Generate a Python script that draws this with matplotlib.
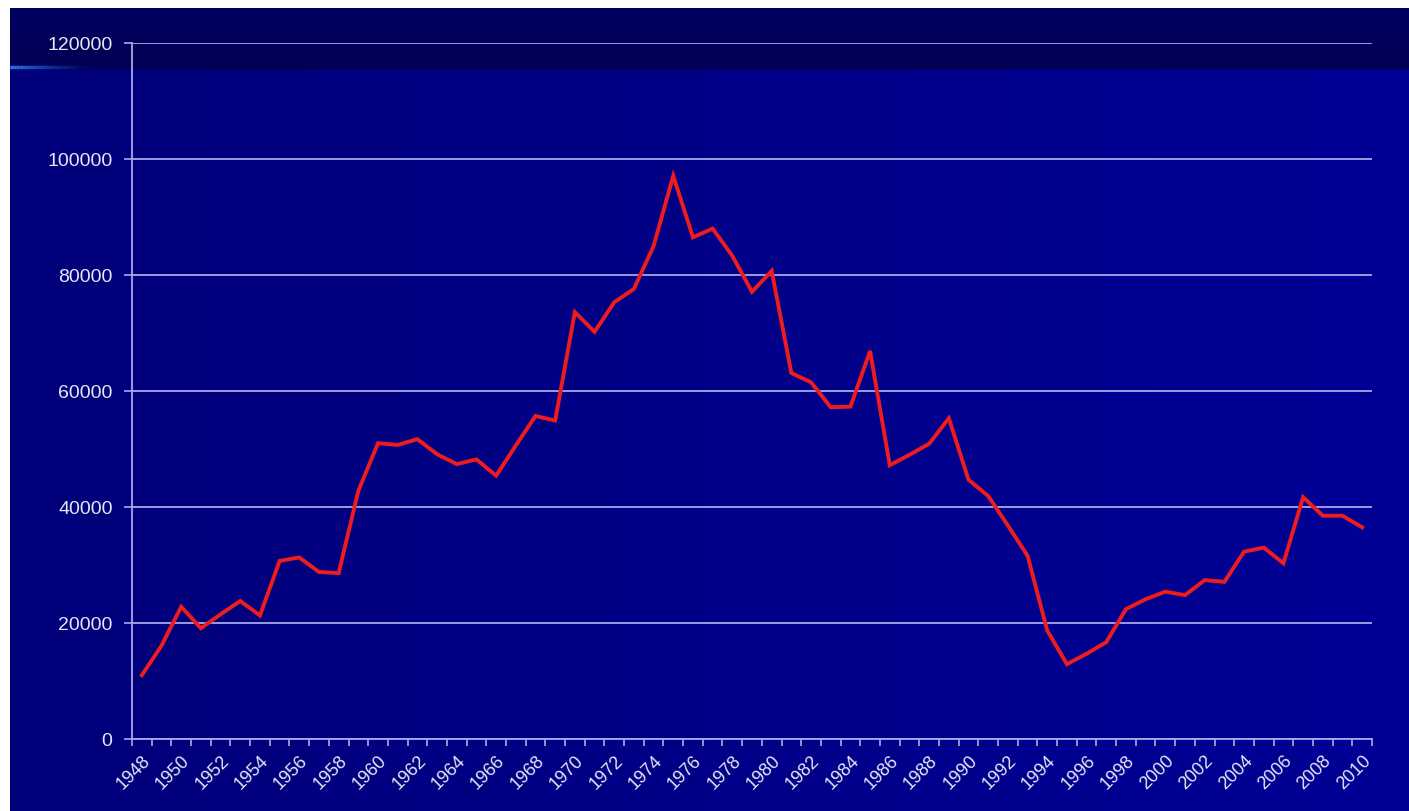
import numpy as np
import matplotlib
matplotlib.use("Agg")
import matplotlib.pyplot as plt

plt.rcParams["font.family"] = ["Liberation Sans", "DejaVu Sans"]

years = list(range(1948, 2011))
values = [
    11000, 16100, 22800, 19100, 21500, 23800, 21300, 30700, 31300, 28800,
    28600, 42800, 51000, 50700, 51700, 49100, 47400, 48200, 45400, 50600,
    55700, 54900, 73600, 70200, 75300, 77600, 85000, 97100, 86500, 88000,
    83300, 77100, 80700, 63100, 61500, 57200, 57300, 66900, 47200, 49000,
    50900, 55300, 44700, 41900, 36800, 31600, 18700, 12900, 14700, 16700,
    22400, 24100, 25400, 24800, 27400, 27100, 32300, 33000, 30300, 41700,
    38500, 38500, 36500,
]
y_ticks = [0, 20000, 40000, 60000, 80000, 100000, 120000]

W, H = 1409, 812
fig = plt.figure(figsize=(W / 100, H / 100), dpi=100, facecolor="white")

# slide-like background: dark band on top, blue gradient below
bg = fig.add_axes([10 / W, 0, 1 - 10 / W, (H - 9) / H], zorder=-10)
bg.set_axis_off()
nrow, ncol = H - 9, W - 10
img = np.zeros((nrow, ncol, 3))
grad = np.linspace(0x7a, 0x96, ncol) / 255
img[:, :, 2] = grad[None, :]
band = 58
img[:band, :, 2] = np.linspace(0x62, 0x54, band)[:, None] / 255
img[band:band + 4, :, 2] = 0x5a / 255
bg.imshow(img, extent=(0, 1, 0, 1), aspect="auto", interpolation="bilinear")
bg.set_xlim(0, 1)
bg.set_ylim(0, 1)
# small glowing accent line at the left of the band
for i in range(40):
    x0 = i / 40 * 0.06
    bg.plot([x0, x0 + 0.06 / 40], [1 - (band + 1) / nrow] * 2, color="#2a7dff",
            lw=2.5, alpha=max(0.0, 1 - i / 40) ** 1.5, solid_capstyle="butt")

ax = fig.add_axes([132 / W, (H - 740) / H, 1240 / W, 696 / H])
ax.set_facecolor("none")
grid_col = "#a8a8e8"
text_col = "#e6e6f5"

x = np.arange(len(years))
ax.plot(x, values, color="#ee1c1c", lw=2.8, solid_joinstyle="miter", zorder=3)

ax.set_xlim(-0.5, len(years) - 0.5)
ax.set_ylim(0, 120000)
ax.set_yticks(y_ticks)
ax.set_yticklabels([str(v) for v in y_ticks])
ax.yaxis.grid(True, color=grid_col, lw=1.3)
ax.set_axisbelow(True)

ax.set_xticks(x[::2])
ax.set_xticklabels([str(y) for y in years[::2]], rotation=45, ha="right",
                   rotation_mode="anchor", fontsize=13, color=text_col)
ax.set_xticks(np.arange(-0.5, len(years), 1), minor=True)
ax.tick_params(axis="x", which="major", length=0, pad=9)
ax.tick_params(axis="x", which="minor", length=5, width=1.2, color=grid_col, direction="out")
ax.tick_params(axis="y", length=6, width=1.2, color=grid_col, labelsize=14,
               labelcolor=text_col, pad=8)

for s in ["top", "right"]:
    ax.spines[s].set_visible(False)
for s in ["left", "bottom"]:
    ax.spines[s].set_color(grid_col)
    ax.spines[s].set_linewidth(1.3)

fig.savefig("out.png", dpi=100, facecolor="white")
